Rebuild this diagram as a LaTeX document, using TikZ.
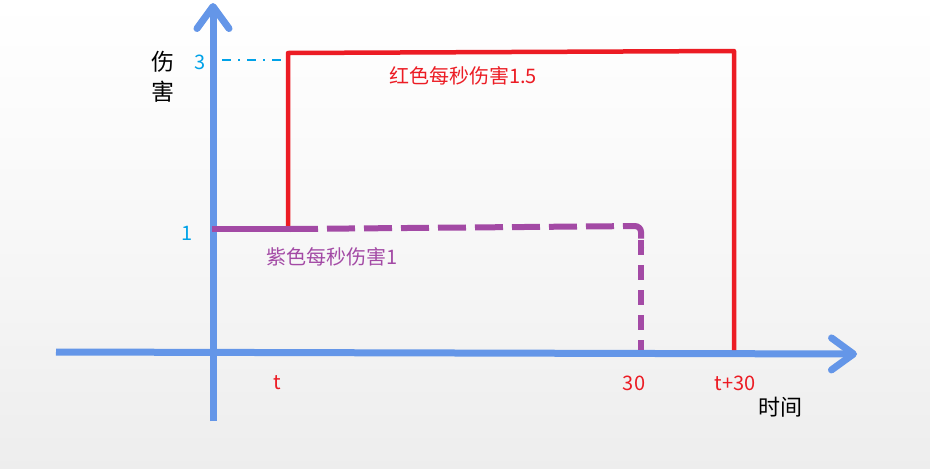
\documentclass[tikz,border=0pt]{standalone}
\usepackage{fontspec}
\setmainfont{Noto Sans CJK SC}
\usetikzlibrary{arrows.meta}
\definecolor{axisblue}{RGB}{100,150,232}
\definecolor{dmgred}{RGB}{236,28,36}
\definecolor{dmgpurple}{RGB}{163,74,165}
\definecolor{tickcyan}{RGB}{0,162,232}

\begin{document}
\begin{tikzpicture}[x=1pt,y=-1pt,
        axis/.style={axisblue,line width=7pt,-{Straight Barb[length=22pt,width=32pt,round]}},
        lbl/.style={inner sep=0pt,font=\fontsize{20}{20}\selectfont}
    ]
    % background
    \shade[top color=white,bottom color=black!7,middle color=white!97!black] (0,0) rectangle (930,469);
    \useasboundingbox (0,0) rectangle (930,469);
    % axes
    \coordinate (xstart) at (56,352);
    \coordinate (xend)   at (857,354);
    \coordinate (ystart) at (213,421);
    \coordinate (yend)   at (213,3);
    \draw[axis] (xstart) -- (xend);
    \draw[axis] (ystart) -- (yend);
    % red damage
    \coordinate (r0) at (288,227);
    \coordinate (r1) at (288,53);
    \coordinate (r2) at (734,51);
    \coordinate (r3) at (734,350);
    \draw[dmgred,line width=4.5pt,line join=round] (r0) -- (r1) -- (r2) -- (r3);
    % purple damage
    \coordinate (p0) at (212,229);
    \coordinate (p1) at (290,229);
    \coordinate (p2) at (641,226);
    \coordinate (pm) at (641,248);
    \coordinate (p3) at (641,350);
    \draw[dmgpurple,line width=6pt] (p0) -- (p1);
    \draw[dmgpurple,line width=6pt,dash pattern=on 28pt off 9pt,rounded corners=6pt] (p1) -- (p2) -- (pm);
    \draw[dmgpurple,line width=6pt,dash pattern=on 15pt off 10pt] ([yshift=8pt]pm) -- (p3);
    % level 3 guide
    \coordinate (g0) at (222,60);
    \coordinate (g1) at (288,60);
    \draw[tickcyan,line width=1.5pt,dash pattern=on 9pt off 7pt on 2pt off 7pt] (g0) -- (g1);
    % labels
    \node[lbl,tickcyan] (three) at (200,62) {3};
    \node[lbl,tickcyan] (one) at (187,233) {1};
    \node[lbl,font=\fontsize{23}{23}\selectfont] (shang) at (163,62) {伤};
    \node[lbl,font=\fontsize{23}{23}\selectfont] (hai) at (163,92) {害};
    \node[lbl,dmgred] (redlbl) at (463,76) {红色每秒伤害1.5};
    \node[lbl,dmgpurple] (purplelbl) at (332,257) {紫色每秒伤害1};
    \node[lbl,dmgred] (tlbl) at (277,383) {t};
    \node[lbl,dmgred] (thirty) at (634,383) {30};
    \node[lbl,dmgred] (tthirty) at (735,383) {t+30};
    \node[lbl,font=\fontsize{22}{22}\selectfont] (shijian) at (780,407) {时间};
\end{tikzpicture}
\end{document}
